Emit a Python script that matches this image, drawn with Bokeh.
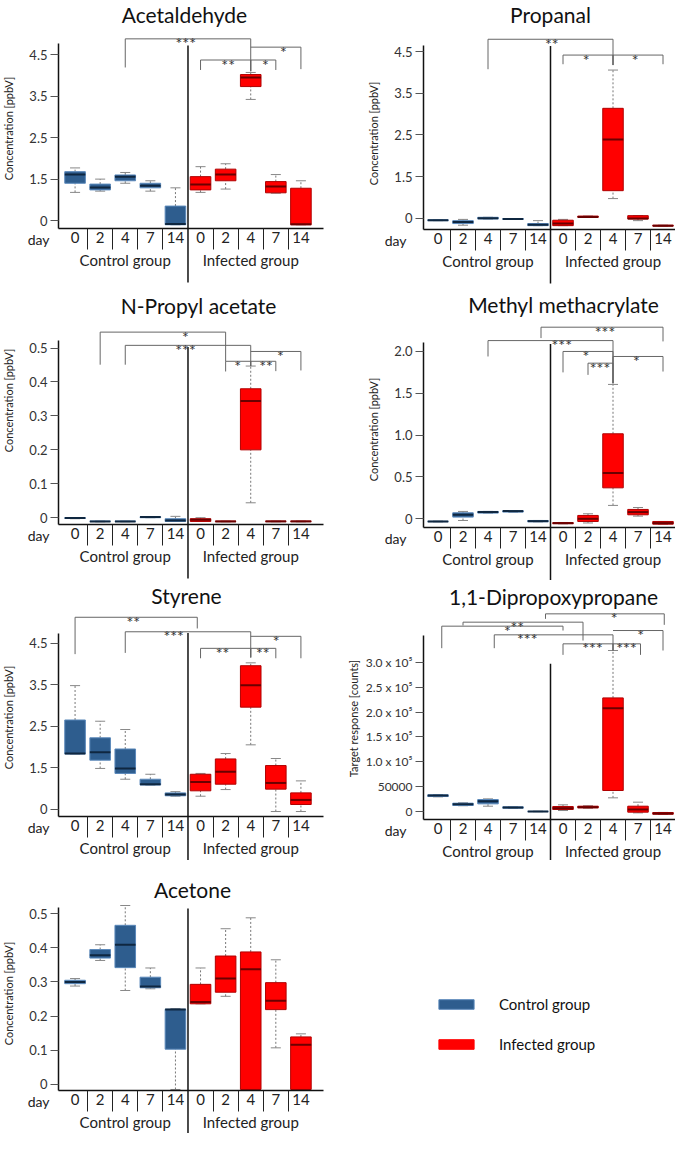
import math
from bokeh.plotting import figure
from bokeh.models import (Range1d, LinearAxis, FixedTicker, Label, Legend, LegendItem,
                          ColumnDataSource)
from bokeh.layouts import column, row
from bokeh.embed import file_html
from bokeh.resources import INLINE
from bokeh.core.properties import value

FONT = "Lato"

# ---------------- data ----------------
DAYS = ["0", "2", "4", "7", "14"]
GROUPS = ["Control group", "Infected group"]
POS = list(range(10))  # control d0..d14, infected d0..d14

# Acetaldehyde (axis units: tick "0" sits at 0.5)
acetaldehyde_lo = [1.18, 1.21, 1.40, 1.21, 0.40, 1.18, 1.26, 3.42, 1.16, 0.40]
acetaldehyde_q1 = [1.40, 1.24, 1.46, 1.29, 0.40, 1.24, 1.46, 3.73, 1.17, 0.40]
acetaldehyde_med = [1.61, 1.30, 1.56, 1.34, 0.42, 1.37, 1.61, 3.95, 1.32, 0.41]
acetaldehyde_q3 = [1.68, 1.38, 1.60, 1.40, 0.85, 1.56, 1.74, 4.02, 1.44, 1.28]
acetaldehyde_hi = [1.77, 1.50, 1.66, 1.46, 1.29, 1.80, 1.87, 4.07, 1.61, 1.46]
acetaldehyde_ticks = [0.5, 1.5, 2.5, 3.5, 4.5]
acetaldehyde_tick_labels = ["0", "1.5", "2.5", "3.5", "4.5"]
acetaldehyde_sig = [  # x1, x2, level, leg1 bottom, leg2 bottom, label, label x
    (2, 7, 4.88, 4.19, 4.10, "***", 4.41),
    (7, 9, 4.68, 4.68, 4.15, "*", 8.3),
    (5, 7, 4.37, 4.13, 4.10, "**", 6.1),
    (7, 8, 4.37, 4.10, 4.13, "*", 7.58),
]

# Propanal (axis units: tick "0" sits at 0.5)
propanal_lo = [0.44, 0.33, 0.48, 0.47, 0.32, 0.32, 0.52, 0.97, 0.44, 0.31]
propanal_q1 = [0.44, 0.37, 0.48, 0.47, 0.32, 0.32, 0.52, 1.16, 0.48, 0.31]
propanal_med = [0.45, 0.41, 0.50, 0.48, 0.34, 0.37, 0.53, 2.39, 0.49, 0.32]
propanal_q3 = [0.46, 0.44, 0.52, 0.49, 0.37, 0.45, 0.55, 3.14, 0.56, 0.33]
propanal_hi = [0.46, 0.47, 0.52, 0.49, 0.44, 0.47, 0.55, 4.06, 0.56, 0.33]
propanal_ticks = [0.5, 1.5, 2.5, 3.5, 4.5]
propanal_tick_labels = ["0", "1.5", "2.5", "3.5", "4.5"]
propanal_sig = [
    (2, 7, 4.80, 4.08, 4.18, "**", 4.55),
    (5, 7, 4.42, 4.20, 4.18, "*", 5.93),
    (7, 9, 4.42, 4.18, 4.20, "*", 7.89),
]

# N-Propyl acetate
npropyl_lo = [-0.003, -0.012, -0.012, 0.0, -0.011, -0.011, -0.012, 0.044, -0.012, -0.012]
npropyl_q1 = [-0.002, -0.011, -0.011, 0.0, -0.011, -0.011, -0.011, 0.200, -0.011, -0.011]
npropyl_med = [-0.001, -0.011, -0.011, 0.002, -0.008, -0.006, -0.011, 0.344, -0.011, -0.011]
npropyl_q3 = [0.0, -0.010, -0.010, 0.003, -0.003, -0.003, -0.010, 0.380, -0.010, -0.010]
npropyl_hi = [0.0, -0.010, -0.010, 0.003, 0.004, 0.0, -0.010, 0.447, -0.010, -0.010]
npropyl_ticks = [0, 0.1, 0.2, 0.3, 0.4, 0.5]
npropyl_tick_labels = ["0", "0.1", "0.2", "0.3", "0.4", "0.5"]
npropyl_sig = [
    (1, 6, 0.547, 0.451, 0.461, "*", 4.4),
    (2, 7, 0.508, 0.451, 0.447, "***", 4.4),
    (7, 9, 0.490, 0.490, 0.434, "*", 8.18),
    (6, 7, 0.461, 0.431, 0.447, "*", 6.48),
    (7, 8, 0.461, 0.447, 0.432, "**", 7.61),
]

# Methyl methacrylate
methyl_lo = [-0.036, -0.02, 0.068, 0.08, -0.036, -0.06, -0.05, 0.16, 0.032, -0.064]
methyl_q1 = [-0.034, 0.02, 0.068, 0.08, -0.036, -0.058, -0.032, 0.37, 0.048, -0.064]
methyl_med = [-0.032, 0.048, 0.08, 0.092, -0.028, -0.052, 0.0, 0.546, 0.08, -0.052]
methyl_q3 = [-0.030, 0.072, 0.088, 0.096, -0.02, -0.046, 0.04, 1.016, 0.112, -0.032]
methyl_hi = [-0.028, 0.088, 0.088, 0.096, -0.02, -0.044, 0.06, 1.606, 0.135, -0.032]
methyl_ticks = [0, 0.5, 1.0, 1.5, 2.0]
methyl_tick_labels = ["0", "0.5", "1.0", "1.5", "2.0"]
methyl_sig = [
    (4.12, 9, 2.29, 2.16, 2.12, "***", 6.68),
    (2, 7, 2.13, 1.94, 1.62, "***", 4.95),
    (5, 7, 2.00, 1.75, 1.62, "*", 5.92),
    (6, 7, 1.86, 1.72, 1.62, "***", 6.48),
    (7, 9, 1.94, 1.62, 1.76, "*", 7.94),
]

# Styrene (axis units: tick "0" sits at 0.5)
styrene_lo = [1.83, 1.48, 1.22, 1.08, 0.81, 0.81, 0.97, 2.05, 0.44, 0.44]
styrene_q1 = [1.83, 1.68, 1.36, 1.08, 0.82, 0.94, 1.10, 2.96, 0.98, 0.61]
styrene_med = [1.84, 1.87, 1.48, 1.10, 0.85, 1.15, 1.40, 3.49, 1.13, 0.72]
styrene_q3 = [2.65, 2.22, 1.95, 1.22, 0.89, 1.34, 1.71, 3.96, 1.55, 0.89]
styrene_hi = [3.48, 2.62, 2.42, 1.34, 0.92, 1.36, 1.84, 4.03, 1.72, 1.18]
styrene_ticks = [0.5, 1.5, 2.5, 3.5, 4.5]
styrene_tick_labels = ["0", "1.5", "2.5", "3.5", "4.5"]
styrene_sig = [
    (0, 4.87, 5.13, 4.24, 4.86, "**", 2.32),
    (2, 7, 4.78, 4.27, 4.16, "***", 3.93),
    (7, 9, 4.67, 4.67, 4.14, "*", 8.01),
    (5, 7, 4.38, 4.14, 4.16, "**", 5.88),
    (7, 8, 4.38, 4.16, 4.14, "**", 7.48),
]

# 1,1-Dipropoxypropane (counts)
dipro_lo = [29000, 11000, 10100, 5800, -1000, 1350, 6000, 27000, -3400, -6500]
dipro_q1 = [29600, 11500, 14800, 6070, -700, 3400, 6700, 41800, -2000, -6070]
dipro_med = [31700, 14150, 20200, 7400, -670, 6070, 8100, 208200, 3400, -4700]
dipro_q3 = [33000, 16200, 23600, 8760, -300, 9400, 10100, 229000, 10100, -2700]
dipro_hi = [33600, 17000, 24900, 9000, 0, 12800, 11000, 324800, 18200, -2500]
dipro_ticks = [0, 50000, 100000, 150000, 200000, 250000, 300000]
dipro_tick_labels = ["0", "50000", "1.0 x 10\u2075", "1.5 x 10\u2075", "2.0 x 10\u2075",
                     "2.5 x 10\u2075", "3.0 x 10\u2075"]
dipro_sig = [
    (4.3, 9.05, 398900, 388800, 376700, "*", 7.05),
    (1, 5.8, 382100, 375400, 345000, "**", 3.17),
    (0.15, 5, 374000, 329500, 365200, "*", 2.78),
    (2.25, 7, 356500, 329500, 324800, "***", 3.57),
    (7, 9, 365200, 365200, 324800, "*", 8.11),
    (5, 7, 338300, 316000, 324800, "***", 6.18),
    (7, 8.1, 338300, 324800, 316000, "***", 7.54),
]

# Acetone
acetone_lo = [0.288, 0.363, 0.275, 0.280, -0.015, 0.236, 0.258, -0.015, 0.107, -0.015]
acetone_q1 = [0.295, 0.370, 0.342, 0.283, 0.103, 0.236, 0.270, -0.015, 0.219, -0.015]
acetone_med = [0.300, 0.378, 0.409, 0.287, 0.219, 0.241, 0.310, 0.337, 0.245, 0.116]
acetone_q3 = [0.305, 0.395, 0.466, 0.314, 0.220, 0.293, 0.376, 0.388, 0.298, 0.139]
acetone_hi = [0.310, 0.409, 0.524, 0.341, 0.222, 0.341, 0.456, 0.488, 0.365, 0.148]
acetone_ticks = [0, 0.1, 0.2, 0.3, 0.4, 0.5]
acetone_tick_labels = ["0", "0.1", "0.2", "0.3", "0.4", "0.5"]
acetone_sig = []

# ---------------- styling / layout ----------------
BLUE = "#2e5d8e"
BLUE_EDGE = "#5a88ba"
BLUE_MED = "#0f2740"
RED = "#ff0000"
RED_EDGE = "#b00000"
RED_MED = "#6a0000"
BOX_W = 0.82

# width, y-axis pixel column, right end of x axis, index range of the x axis
SIDES = {
    "L": dict(W=340, Ax=58, plotR=323, XR=(-0.66, 9.9), day_dx=-9),
    "R": dict(W=335, Ax=83, plotR=335, XR=(-0.58, 9.5), day_dx=-17),
}
ROW_H = [290, 290, 280, 273]


def panel(title, lo, q1, med, q3, hi, ticks, tick_labels, sig, y0, ppy, AY, axis_top,
          div_top, ylabel, side, Hh, title_c, ylab_c, tick_font="13px"):
    S = SIDES[side]
    W, Ax, plotR, XR = S["W"], S["Ax"], S["plotR"], S["XR"]
    ppx = (plotR - Ax) / (XR[1] - XR[0])

    def xd(px):
        return XR[0] + (px - Ax) / ppx

    def yd(py):
        return y0 + (AY - py) / ppy

    p = figure(width=W, height=Hh, x_range=Range1d(xd(0), xd(W)),
               y_range=Range1d(yd(Hh), yd(0)), title=None,
               output_backend="svg", toolbar_location=None, x_axis_type=None, y_axis_type=None,
               min_border=0)
    p.outline_line_color = None

    fills = [BLUE] * 5 + [RED] * 5
    edges = [BLUE_EDGE] * 5 + [RED_EDGE] * 5
    meds = [BLUE_MED] * 5 + [RED_MED] * 5
    src = ColumnDataSource(dict(x=POS, lo=lo, q1=q1, med=med, q3=q3, hi=hi,
                                fill=fills, edge=edges, mc=meds,
                                xl=[x - BOX_W / 2 for x in POS], xr=[x + BOX_W / 2 for x in POS],
                                cl=[x - 0.2 for x in POS], cr=[x + 0.2 for x in POS]))
    # whiskers
    p.segment(x0="x", y0="q3", x1="x", y1="hi", source=src, line_color="#777777",
              line_width=1, line_dash="2 2")
    p.segment(x0="x", y0="lo", x1="x", y1="q1", source=src, line_color="#777777",
              line_width=1, line_dash="2 2")
    p.segment(x0="cl", y0="hi", x1="cr", y1="hi", source=src, line_color="#888888", line_width=1)
    p.segment(x0="cl", y0="lo", x1="cr", y1="lo", source=src, line_color="#888888", line_width=1)
    # boxes
    p.vbar(x="x", width=BOX_W, bottom="q1", top="q3", source=src, fill_color="fill",
           line_color="edge", line_width=1)
    p.segment(x0="xl", y0="med", x1="xr", y1="med", source=src, line_color="mc", line_width=2)

    # divider between the groups, running down through the label rows
    p.segment(x0=[4.5], y0=[yd(min(AY + 54, Hh))], x1=[4.5], y1=[div_top],
              line_color="#111111", line_width=1.5)

    # significance brackets
    if sig:
        xs, ys, lx, ly, lt = [], [], [], [], []
        for x1, x2, lev, b1, b2, lab, lxx in sig:
            xs.append([x1, x1, x2, x2])
            ys.append([b1, lev, lev, b2])
            lx.append(lxx)
            ly.append(lev)
            lt.append(lab)
        p.multi_line(xs=xs, ys=ys, line_color="#666666", line_width=1)
        p.text(x=lx, y=ly, text=lt, text_align="center", text_baseline="alphabetic",
               text_font=value(FONT), text_font_size="16px", text_color="#333333", y_offset=4)

    # y axis
    yax = LinearAxis(ticker=FixedTicker(ticks=ticks, minor_ticks=[]),
                     major_label_overrides={t: l for t, l in zip(ticks, tick_labels)},
                     bounds=(y0, axis_top), fixed_location=XR[0])
    yax.axis_line_color = "#111111"
    yax.axis_line_width = 1.5
    yax.major_tick_out = 8
    yax.major_tick_in = 0
    yax.minor_tick_out = 0
    yax.minor_tick_in = 0
    yax.major_tick_line_color = "#555555"
    yax.major_label_standoff = 3
    yax.major_label_text_font = FONT
    yax.major_label_text_font_size = tick_font
    yax.major_label_text_color = "#333333"
    p.add_layout(yax, "left")

    # day axis
    xax = LinearAxis(ticker=FixedTicker(ticks=POS, minor_ticks=[0.5, 1.5, 2.5, 3.5, 5.5, 6.5, 7.5, 8.5]),
                     major_label_overrides={i: d for i, d in zip(POS, DAYS + DAYS)},
                     fixed_location=y0, bounds=XR)
    xax.axis_line_color = "#111111"
    xax.axis_line_width = 1.5
    xax.major_tick_out = 0
    xax.major_tick_in = 0
    xax.minor_tick_out = 21
    xax.minor_tick_in = 0
    xax.minor_tick_line_color = "#222222"
    xax.minor_tick_line_width = 1
    xax.major_label_standoff = -18
    xax.major_label_text_font = FONT
    xax.major_label_text_font_size = "15px"
    xax.major_label_text_color = "#222222"
    p.add_layout(xax, "below")

    # group axis
    gax = LinearAxis(ticker=FixedTicker(ticks=[2, 7], minor_ticks=[]),
                     major_label_overrides={2: GROUPS[0], 7: GROUPS[1]},
                     fixed_location=yd(AY + 22))
    gax.axis_line_color = None
    gax.major_tick_line_color = None
    gax.minor_tick_line_color = None
    gax.major_tick_out = 0
    gax.major_tick_in = 0
    gax.minor_tick_out = 0
    gax.minor_tick_in = 0
    gax.major_label_standoff = 0
    gax.major_label_text_font = FONT
    gax.major_label_text_font_size = "15px"
    gax.major_label_text_color = "#222222"
    p.add_layout(gax, "below")

    p.add_layout(Label(x=XR[0], y=y0, x_offset=S["day_dx"], y_offset=-11, text="day",
                       text_align="right", text_baseline="middle", text_font=FONT,
                       text_font_size="14px", text_color="#222222"))
    p.add_layout(Label(x=xd(ylab_c[0]), y=yd(ylab_c[1]), text=ylabel, angle=math.pi / 2,
                       text_align="center", text_baseline="middle", text_font=FONT,
                       text_font_size="11px", text_color="#222222"))
    p.add_layout(Label(x=xd(title_c[0]), y=yd(title_c[1]), text=title, text_align="center",
                       text_baseline="middle", text_font=FONT, text_font_size="21px",
                       text_color="#111111"))
    return p


p1 = panel("Acetaldehyde", acetaldehyde_lo, acetaldehyde_q1, acetaldehyde_med, acetaldehyde_q3,
           acetaldehyde_hi, acetaldehyde_ticks, acetaldehyde_tick_labels, acetaldehyde_sig,
           0.31, 41.5, 228, 4.77, 4.72, "Concentration [ppbV]", "L", ROW_H[0],
           (184, 14), (8, 128))
p2 = panel("Propanal", propanal_lo, propanal_q1, propanal_med, propanal_q3, propanal_hi,
           propanal_ticks, propanal_tick_labels, propanal_sig,
           0.227, 41.6, 229, 4.66, 4.64, "Concentration [ppbV]", "R", ROW_H[0],
           (210, 14), (33, 133))
p3 = panel("N-Propyl acetate", npropyl_lo, npropyl_q1, npropyl_med, npropyl_q3, npropyl_hi,
           npropyl_ticks, npropyl_tick_labels, npropyl_sig,
           -0.02, 339.3, 234, 0.523, 0.503, "Concentration [ppbV]", "L", ROW_H[1],
           (198, 15), (8, 110))
p4 = panel("Methyl methacrylate", methyl_lo, methyl_q1, methyl_med, methyl_q3, methyl_hi,
           methyl_ticks, methyl_tick_labels, methyl_sig,
           -0.104, 83.67, 237, 2.11, 2.09, "Concentration [ppbV]", "R", ROW_H[1],
           (223, 14), (33, 139))
p5 = panel("Styrene", styrene_lo, styrene_q1, styrene_med, styrene_q3, styrene_hi,
           styrene_ticks, styrene_tick_labels, styrene_sig,
           0.32, 41.42, 236, 4.75, 4.75, "Concentration [ppbV]", "L", ROW_H[2],
           (186, 15), (8, 137))
p6 = panel("1,1-Dipropoxypropane", dipro_lo, dipro_q1, dipro_med, dipro_q3, dipro_hi,
           dipro_ticks, dipro_tick_labels, dipro_sig,
           -16800, 4.947e-4, 239, 355000, 297900, "Target response [counts]", "R", ROW_H[2],
           (213, 16), (13, 138), tick_font="12px")
p7 = panel("Acetone", acetone_lo, acetone_q1, acetone_med, acetone_q3, acetone_hi,
           acetone_ticks, acetone_tick_labels, acetone_sig,
           -0.018, 341.3, 230, 0.517, 0.515, "Concentration [ppbV]", "L", ROW_H[3],
           (192, 29), (8, 133))

# legend panel
pl = figure(width=SIDES["R"]["W"], height=ROW_H[3], x_range=Range1d(0, 1), y_range=Range1d(0, 1),
            title=None, output_backend="svg", toolbar_location=None, x_axis_type=None,
            y_axis_type=None, min_border=0)
pl.outline_line_color = None
r_c = pl.vbar(x=[-5], bottom=[-6], top=[-5], width=0.1, fill_color=BLUE, line_color=BLUE_EDGE)
r_i = pl.vbar(x=[-5], bottom=[-6], top=[-5], width=0.1, fill_color=RED, line_color=RED)
leg = Legend(items=[LegendItem(label=GROUPS[0], renderers=[r_c]),
                    LegendItem(label=GROUPS[1], renderers=[r_i])],
             location=(94, 80), glyph_width=44, glyph_height=12, label_height=12,
             label_standoff=21, spacing=22, padding=0, margin=0,
             border_line_color=None, background_fill_alpha=0,
             label_text_font=FONT, label_text_font_size="15px", label_text_color="#111111")
pl.add_layout(leg)

layout = column(row(p1, p2), row(p3, p4), row(p5, p6), row(p7, pl))
open("out.html", "w").write(file_html(layout, INLINE))
